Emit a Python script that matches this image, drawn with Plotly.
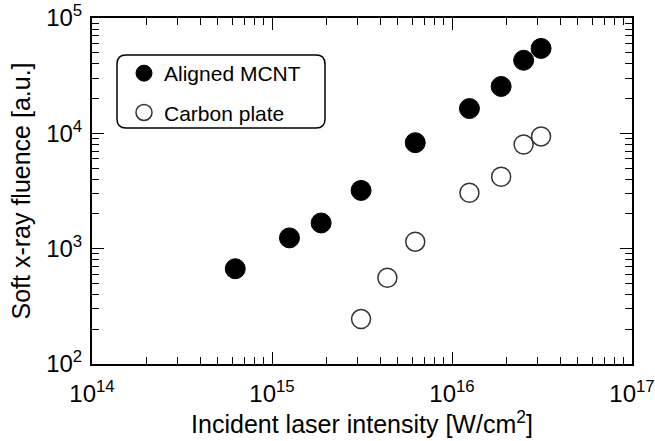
import plotly.graph_objects as go

# Data
mcnt_intensity = [6.25e14, 1.25e15, 1.875e15, 3.125e15, 6.25e15, 1.25e16, 1.875e16, 2.5e16, 3.125e16]
mcnt_fluence = [670, 1240, 1670, 3200, 8300, 16400, 25500, 43000, 54500]

plate_intensity = [3.125e15, 4.375e15, 6.25e15, 1.25e16, 1.875e16, 2.5e16, 3.125e16]
plate_fluence = [245, 560, 1150, 3050, 4200, 8000, 9400]

x_tickvals = [1e14, 1e15, 1e16, 1e17]
x_ticktext = ["10<sup>14</sup>", "10<sup>15</sup>", "10<sup>16</sup>", "10<sup>17</sup>"]
y_tickvals = [1e2, 1e3, 1e4, 1e5]
y_ticktext = ["10<sup>2</sup>", "10<sup>3</sup>", "10<sup>4</sup>", "10<sup>5</sup>"]

series_names = ["Aligned MCNT", "Carbon plate"]
x_title = "Incident laser intensity [W/cm<sup>2</sup>]"
y_title = "Soft x-ray fluence [a.u.]"


def minor_vals(majors):
    vals = []
    for m in majors[:-1]:
        for k in range(2, 10):
            vals.append(m * k)
    return vals


FONT = "Liberation Sans, Arial, Helvetica, sans-serif"

fig = go.Figure()
fig.add_trace(go.Scatter(
    x=mcnt_intensity, y=mcnt_fluence, mode="markers", name=series_names[0],
    legendgroup="a",
    marker=dict(symbol="circle", size=20, color="black",
                line=dict(color="black", width=1)),
))
fig.add_trace(go.Scatter(
    x=plate_intensity, y=plate_fluence, mode="markers", name=series_names[1],
    legendgroup="b",
    marker=dict(symbol="circle", size=19, color="white",
                line=dict(color="#333333", width=1.5)),
))

axis_common = dict(
    type="log",
    showgrid=False,
    zeroline=False,
    showline=True,
    linecolor="black",
    linewidth=2,
    mirror="ticks",
    ticks="inside",
    ticklen=12,
    tickwidth=1.3,
    tickcolor="black",
    tickfont=dict(family=FONT, size=24, color="black"),
    tickmode="array",
)

fig.update_xaxes(
    **axis_common,
    range=[14, 17],
    tickvals=x_tickvals,
    ticktext=x_ticktext,
    minor=dict(ticks="inside", ticklen=7, tickwidth=1, tickcolor="black",
               tickmode="array", tickvals=minor_vals(x_tickvals)),
    title=dict(text=x_title, font=dict(family=FONT, size=25, color="black"), standoff=4),
    ticklabelstandoff=7,
)
fig.update_yaxes(
    **axis_common,
    range=[2, 5],
    tickvals=y_tickvals,
    ticktext=y_ticktext,
    minor=dict(ticks="inside", ticklen=7, tickwidth=1, tickcolor="black",
               tickmode="array", tickvals=minor_vals(y_tickvals)),
    title=dict(text=y_title, font=dict(family=FONT, size=25, color="black"), standoff=8),
    ticklabelstandoff=3,
)

W, H = 655, 441
ml, mr, mt, mb = 92, 23, 18, 77
pw, ph = W - ml - mr, H - mt - mb

# rounded legend frame (in paper coords)
bx0, bx1, by0, by1 = 117, 325, 55, 128
r = 9
def px(x):
    return (x - ml) / pw
def py(y):
    return 1 - (y - mt) / ph
path = (f"M {px(bx0 + r)},{py(by0)} L {px(bx1 - r)},{py(by0)} "
        f"Q {px(bx1)},{py(by0)} {px(bx1)},{py(by0 + r)} "
        f"L {px(bx1)},{py(by1 - r)} Q {px(bx1)},{py(by1)} {px(bx1 - r)},{py(by1)} "
        f"L {px(bx0 + r)},{py(by1)} Q {px(bx0)},{py(by1)} {px(bx0)},{py(by1 - r)} "
        f"L {px(bx0)},{py(by0 + r)} Q {px(bx0)},{py(by0)} {px(bx0 + r)},{py(by0)} Z")

fig.update_layout(
    width=W, height=H,
    margin=dict(l=ml, r=mr, t=mt, b=mb, autoexpand=False),
    paper_bgcolor="white", plot_bgcolor="white",
    showlegend=True,
    legend=dict(
        x=px(124), y=py(53), xanchor="left", yanchor="top",
        bgcolor="rgba(0,0,0,0)", borderwidth=0,
        font=dict(family=FONT, size=21, color="black"),
        traceorder="grouped", tracegroupgap=9,
        itemsizing="trace",
    ),
    shapes=[dict(type="path", xref="paper", yref="paper", path=path,
                 line=dict(color="black", width=1.5), fillcolor="rgba(0,0,0,0)")],
)

fig.write_html("out.html")
